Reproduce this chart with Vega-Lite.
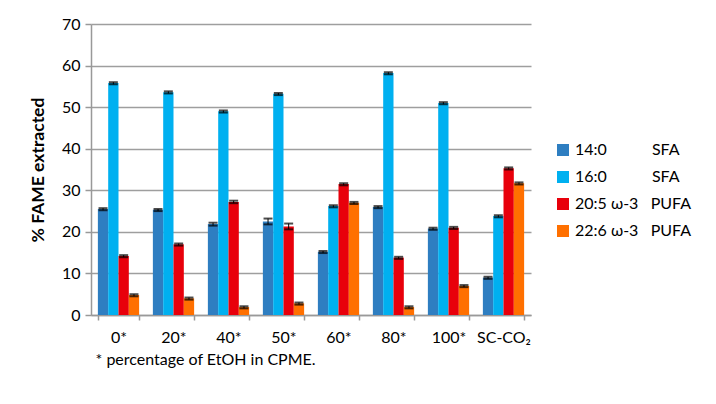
{
  "$schema": "https://vega.github.io/schema/vega-lite/v6.json",
  "autosize": "none",
  "width": 440,
  "height": 291,
  "padding": {"left": 91, "top": 24, "right": 185, "bottom": 89},
  "background": "white",
  "config": {
    "font": "Lato",
    "view": {"stroke": null},
    "axis": {"labelFont": "Lato", "titleFont": "Lato", "labelColor": "#000", "titleColor": "#000"}
  },
  "data": {
    "values": [
      {"cat": "0*", "fa": "14:0", "value": 25.5, "lo": 25.2, "hi": 25.7},
      {"cat": "0*", "fa": "16:0", "value": 55.8, "lo": 55.5, "hi": 56.0},
      {"cat": "0*", "fa": "20:5", "value": 14.2, "lo": 13.9, "hi": 14.4},
      {"cat": "0*", "fa": "22:6", "value": 4.8, "lo": 4.5, "hi": 5.0},
      {"cat": "20*", "fa": "14:0", "value": 25.3, "lo": 25.0, "hi": 25.5},
      {"cat": "20*", "fa": "16:0", "value": 53.6, "lo": 53.3, "hi": 53.8},
      {"cat": "20*", "fa": "20:5", "value": 17.0, "lo": 16.7, "hi": 17.2},
      {"cat": "20*", "fa": "22:6", "value": 4.0, "lo": 3.7, "hi": 4.2},
      {"cat": "40*", "fa": "14:0", "value": 21.9, "lo": 21.5, "hi": 22.2},
      {"cat": "40*", "fa": "16:0", "value": 49.0, "lo": 48.7, "hi": 49.2},
      {"cat": "40*", "fa": "20:5", "value": 27.2, "lo": 26.9, "hi": 27.5},
      {"cat": "40*", "fa": "22:6", "value": 1.9, "lo": 1.6, "hi": 2.1},
      {"cat": "50*", "fa": "14:0", "value": 22.5, "lo": 21.8, "hi": 23.2},
      {"cat": "50*", "fa": "16:0", "value": 53.2, "lo": 52.9, "hi": 53.4},
      {"cat": "50*", "fa": "20:5", "value": 21.3, "lo": 20.6, "hi": 22.0},
      {"cat": "50*", "fa": "22:6", "value": 2.8, "lo": 2.5, "hi": 3.0},
      {"cat": "60*", "fa": "14:0", "value": 15.2, "lo": 14.9, "hi": 15.4},
      {"cat": "60*", "fa": "16:0", "value": 26.2, "lo": 25.9, "hi": 26.4},
      {"cat": "60*", "fa": "20:5", "value": 31.5, "lo": 31.2, "hi": 31.7},
      {"cat": "60*", "fa": "22:6", "value": 27.0, "lo": 26.7, "hi": 27.2},
      {"cat": "80*", "fa": "14:0", "value": 26.0, "lo": 25.7, "hi": 26.2},
      {"cat": "80*", "fa": "16:0", "value": 58.2, "lo": 57.9, "hi": 58.4},
      {"cat": "80*", "fa": "20:5", "value": 13.8, "lo": 13.5, "hi": 14.0},
      {"cat": "80*", "fa": "22:6", "value": 1.9, "lo": 1.6, "hi": 2.1},
      {"cat": "100*", "fa": "14:0", "value": 20.8, "lo": 20.5, "hi": 21.0},
      {"cat": "100*", "fa": "16:0", "value": 51.0, "lo": 50.7, "hi": 51.2},
      {"cat": "100*", "fa": "20:5", "value": 21.0, "lo": 20.7, "hi": 21.2},
      {"cat": "100*", "fa": "22:6", "value": 7.0, "lo": 6.7, "hi": 7.2},
      {"cat": "SC-CO₂", "fa": "14:0", "value": 9.0, "lo": 8.7, "hi": 9.2},
      {"cat": "SC-CO₂", "fa": "16:0", "value": 23.8, "lo": 23.5, "hi": 24.0},
      {"cat": "SC-CO₂", "fa": "20:5", "value": 35.3, "lo": 35.0, "hi": 35.5},
      {"cat": "SC-CO₂", "fa": "22:6", "value": 31.7, "lo": 31.4, "hi": 31.9}
    ]
  },
  "encoding": {
    "x": {
      "field": "cat", "type": "nominal", "sort": null,
      "scale": {"paddingInner": 0.25, "paddingOuter": 0.125},
      "axis": {
        "title": "* percentage of EtOH in CPME.",
        "titleAnchor": "start", "titleAlign": "left", "titleX": 4, "titleFontWeight": "normal", "titleFontSize": 16, "titlePadding": 6,
        "labelAngle": 0, "labelFontSize": 16, "labelPadding": 9,
        "tickBand": "extent", "tickSize": 5, "tickColor": "#999", "tickWidth": 1.5, "domainColor": "#999", "domainWidth": 1.5, "grid": false
      }
    },
    "xOffset": {"field": "fa", "type": "nominal", "sort": ["14:0", "16:0", "20:5", "22:6"]}
  },
  "layer": [
    {
      "mark": {"type": "bar"},
      "encoding": {
        "y": {
          "field": "value", "type": "quantitative",
          "scale": {"domain": [0, 70]},
          "axis": {
            "title": "% FAME extracted", "titleFontSize": 17.5, "titleFontWeight": "bold", "titlePadding": 14,
            "values": [0, 10, 20, 30, 40, 50, 60, 70], "labelFontSize": 16, "labelPadding": 5,
            "tickSize": 6, "tickColor": "#999", "tickWidth": 1.5, "domainColor": "#999", "domainWidth": 1.5, "gridColor": "#9E9E9E", "gridWidth": 1.5
          }
        },
        "color": {
          "field": "fa", "type": "nominal",
          "scale": {"domain": ["14:0", "16:0", "20:5", "22:6"], "range": ["#2E7EC1", "#00B0F0", "#E8000B", "#FF7000"]},
          "legend": {
            "title": null, "orient": "none", "legendX": 464, "legendY": 118,
            "symbolType": "square", "symbolSize": 144, "symbolStrokeWidth": 0, "rowPadding": 11,
            "labelFontSize": 16, "labelOffset": 4, "labelLimit": 220,
            "labelExpr": "datum.label == '14:0' ? '14:0\u00a0\u00a0\u00a0\u00a0\u00a0\u00a0\u00a0\u00a0\u00a0\u00a0\u00a0SFA' : datum.label == '16:0' ? '16:0\u00a0\u00a0\u00a0\u00a0\u00a0\u00a0\u00a0\u00a0\u00a0\u00a0\u00a0SFA' : datum.label == '20:5' ? '20:5 ω-3\u00a0\u00a0\u00a0PUFA' : '22:6 ω-3\u00a0\u00a0\u00a0PUFA'"
          }
        }
      }
    },
    {
      "mark": {"type": "rule", "color": "black", "strokeWidth": 1},
      "encoding": {
        "y": {"field": "lo", "type": "quantitative"},
        "y2": {"field": "hi"}
      }
    },
    {
      "mark": {"type": "tick", "color": "black", "thickness": 2, "size": 9},
      "encoding": {"y": {"field": "hi", "type": "quantitative"}}
    },
    {
      "mark": {"type": "tick", "color": "black", "thickness": 2, "size": 9},
      "encoding": {"y": {"field": "lo", "type": "quantitative"}}
    }
  ]
}
